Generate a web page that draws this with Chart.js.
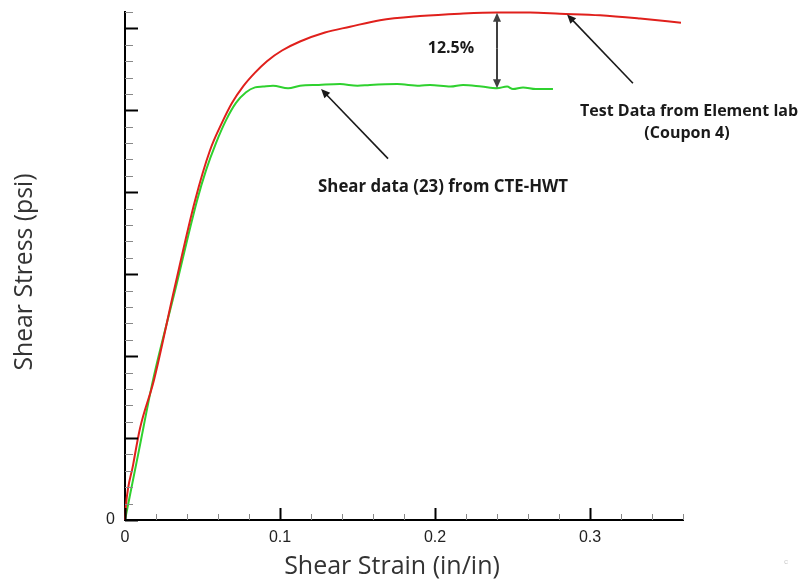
<!DOCTYPE html>
<html>
<head>
<meta charset="utf-8">
<title>Shear Stress vs Shear Strain</title>
<script src="https://cdn.jsdelivr.net/npm/chart.js@4.4.1/dist/chart.umd.min.js"></script>
<style>
  html, body { margin: 0; padding: 0; background: #fff; }
  #wrap { width: 803px; height: 582px; position: relative; }
</style>
</head>
<body>
<div id="wrap"><canvas id="shearChart"></canvas></div>
<script>
// data (strain in/in, stress in arbitrary major-tick units)
const labStrain = [0, 0.0006, 0.0052, 0.0097, 0.0187, 0.0316, 0.0452, 0.0548, 0.0626, 0.069, 0.0761, 0.0839, 0.0916, 0.1013, 0.1129, 0.129, 0.1452, 0.1645, 0.1903, 0.2161, 0.24, 0.2613, 0.2806, 0.3065, 0.3323, 0.3587];
const labStress = [0, 0.18, 0.67, 1.12, 1.71, 2.80, 3.90, 4.51, 4.85, 5.09, 5.29, 5.46, 5.60, 5.73, 5.84, 5.95, 6.02, 6.10, 6.15, 6.18, 6.195, 6.195, 6.18, 6.16, 6.12, 6.07];

const cteStrain = [0, 0.009, 0.0181, 0.0323, 0.0465, 0.0523, 0.0587, 0.0652, 0.0716, 0.0781, 0.0839, 0.089, 0.0955, 0.1052, 0.1129, 0.125, 0.1387, 0.15, 0.158, 0.1755, 0.19, 0.1968, 0.21, 0.2181, 0.23, 0.24, 0.2465, 0.2503, 0.2568, 0.265, 0.2761];
const cteStress = [0, 0.85, 1.71, 2.80, 3.90, 4.27, 4.60, 4.88, 5.09, 5.22, 5.28, 5.29, 5.30, 5.27, 5.30, 5.31, 5.32, 5.30, 5.31, 5.32, 5.30, 5.31, 5.29, 5.31, 5.29, 5.27, 5.29, 5.26, 5.28, 5.26, 5.26];

const xTickLabels = ['0', '0.1', '0.2', '0.3'];
const yTickLabels = ['0'];

const toPoints = (xs, ys) => xs.map((x, i) => ({ x: x, y: ys[i] }));
const isMultiple = (v, step) => Math.abs(v / step - Math.round(v / step)) < 1e-6;

// draw an arrow with a filled head at (x2,y2)
function arrow(ctx, x1, y1, x2, y2, color, width) {
  const ang = Math.atan2(y2 - y1, x2 - x1);
  const len = 9, half = 4;
  ctx.strokeStyle = color;
  ctx.fillStyle = color;
  ctx.lineWidth = width;
  ctx.beginPath();
  ctx.moveTo(x1, y1);
  ctx.lineTo(x2 - Math.cos(ang) * len * 0.8, y2 - Math.sin(ang) * len * 0.8);
  ctx.stroke();
  ctx.beginPath();
  ctx.moveTo(x2, y2);
  ctx.lineTo(x2 - Math.cos(ang) * len + Math.sin(ang) * half, y2 - Math.sin(ang) * len - Math.cos(ang) * half);
  ctx.lineTo(x2 - Math.cos(ang) * len - Math.sin(ang) * half, y2 - Math.sin(ang) * len + Math.cos(ang) * half);
  ctx.closePath();
  ctx.fill();
}

// tick marks pointing into the plot
const inwardTicks = {
  id: 'inwardTicks',
  afterDraw(chart) {
    const ctx = chart.ctx;
    const xs = chart.scales.x, ys = chart.scales.y;
    const left = chart.chartArea.left, bottom = chart.chartArea.bottom;
    ctx.save();
    ys.ticks.forEach(t => {
      const py = Math.round(ys.getPixelForValue(t.value)) + 0.5;
      const major = isMultiple(t.value, 1);
      ctx.strokeStyle = major ? '#000' : '#888';
      ctx.lineWidth = major ? 2 : 1;
      ctx.beginPath();
      ctx.moveTo(left, py);
      ctx.lineTo(left + (major ? 13 : 8), py);
      ctx.stroke();
    });
    xs.ticks.forEach(t => {
      const px = Math.round(xs.getPixelForValue(t.value)) + 0.5;
      const major = isMultiple(t.value, 0.1);
      ctx.strokeStyle = major ? '#000' : '#888';
      ctx.lineWidth = major ? 2 : 1;
      ctx.beginPath();
      ctx.moveTo(px, bottom);
      ctx.lineTo(px, bottom - (major ? 12 : 6));
      ctx.stroke();
    });
    ctx.restore();
  }
};

// annotations: arrows, notes, axis titles
const notes = {
  id: 'notes',
  afterDraw(chart) {
    const ctx = chart.ctx;
    const xs = chart.scales.x, ys = chart.scales.y;
    const X = v => xs.getPixelForValue(v), Y = v => ys.getPixelForValue(v);
    ctx.save();

    // gap between the two curves
    arrow(ctx, X(0.24), Y(5.75), X(0.24), Y(6.19), '#404040', 2);
    arrow(ctx, X(0.24), Y(5.75), X(0.24), Y(5.27), '#404040', 2);

    // pointers
    arrow(ctx, X(0.3277), Y(5.33), X(0.2852), Y(6.17), '#1a1a1a', 1.6);
    arrow(ctx, X(0.1697), Y(4.41), X(0.1265), Y(5.26), '#1a1a1a', 1.6);

    ctx.fillStyle = '#1a1a1a';
    ctx.textAlign = 'center';
    ctx.textBaseline = 'middle';
    ctx.font = 'bold 16px "Open Sans"';
    ctx.fillText('12.5%', X(0.2103), Y(5.76), 48);
    ctx.fillText('Test Data from Element lab', X(0.3639), Y(4.99), 222);
    ctx.fillText('(Coupon 4)', X(0.3626), Y(4.72), 94);
    ctx.font = 'bold 17px "Open Sans"';
    ctx.fillText('Shear data (23) from CTE-HWT', X(0.2052), Y(4.06), 250);

    // axis titles
    ctx.fillStyle = '#333';
    ctx.font = '25px "Open Sans"';
    ctx.fillText('Shear Strain (in/in)', 392, 567, 223);
    ctx.translate(25, 272);
    ctx.rotate(-Math.PI / 2);
    ctx.fillText('Shear Stress (psi)', 0, 0, 197);
    ctx.restore();

    ctx.save();
    ctx.fillStyle = '#ccc';
    ctx.textAlign = 'center';
    ctx.textBaseline = 'middle';
    ctx.font = '8px "Liberation Sans"';
    ctx.fillText('c', 786, 562);
    ctx.restore();
  }
};

const ctx = document.getElementById('shearChart').getContext('2d');
new Chart(ctx, {
  type: 'line',
  data: {
    datasets: [
      {
        label: 'Test Data from Element lab (Coupon 4)',
        data: toPoints(labStrain, labStress),
        borderColor: '#e0201c',
        borderWidth: 2,
        pointRadius: 0,
        cubicInterpolationMode: 'monotone',
        clip: false
      },
      {
        label: 'Shear data (23) from CTE-HWT',
        data: toPoints(cteStrain, cteStress),
        borderColor: '#2fd12f',
        borderWidth: 2,
        pointRadius: 0,
        cubicInterpolationMode: 'monotone',
        clip: false
      }
    ]
  },
  options: {
    responsive: true,
    maintainAspectRatio: false,
    animation: false,
    layout: { padding: { left: 0, top: 12, right: 120, bottom: 0 } },
    plugins: {
      legend: { display: false },
      tooltip: { enabled: false }
    },
    scales: {
      x: {
        type: 'linear',
        min: 0,
        max: 0.36,
        grid: { display: false, drawTicks: false },
        border: { display: true, color: '#000', width: 2 },
        ticks: {
          stepSize: 0.02,
          autoSkip: false,
          maxRotation: 0,
          padding: 8,
          color: '#222',
          font: { family: '"Liberation Sans"', size: 16 },
          callback: function(value) {
            if (!isMultiple(value, 0.1)) return '';
            return xTickLabels[Math.round(value * 10)] || '';
          }
        },
        afterFit: function(scale) {
          scale.height = 62;
          scale.paddingLeft = 0;
          scale.paddingRight = 0;
        }
      },
      y: {
        type: 'linear',
        min: 0,
        max: 6.2,
        grid: { display: false, drawTicks: false },
        border: { display: true, color: '#000', width: 2 },
        ticks: {
          stepSize: 0.2,
          autoSkip: false,
          padding: 10,
          color: '#222',
          font: { family: '"Liberation Sans"', size: 16 },
          callback: function(value) {
            return value === 0 ? yTickLabels[0] : '';
          }
        },
        afterFit: function(scale) {
          scale.width = 125;
          scale.paddingTop = 0;
          scale.paddingBottom = 0;
        }
      }
    }
  },
  plugins: [inwardTicks, notes]
});
</script>
</body>
</html>
